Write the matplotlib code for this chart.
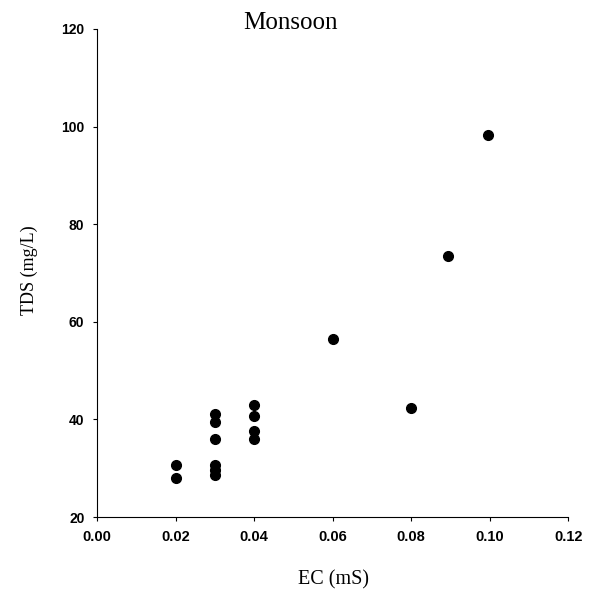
import matplotlib.pyplot as plt

# EC (mS) vs TDS (mg/L), monsoon season
ec = [0.02, 0.02, 0.03, 0.03, 0.03, 0.03, 0.03, 0.03,
      0.04, 0.04, 0.04, 0.04, 0.06, 0.08, 0.0895, 0.0995]
tds = [30.7, 28.0, 41.2, 39.5, 36.0, 30.7, 29.6, 28.7,
       43.0, 40.6, 37.6, 36.0, 56.4, 42.4, 73.5, 98.3]

xticks = [0.00, 0.02, 0.04, 0.06, 0.08, 0.10, 0.12]
yticks = [20, 40, 60, 80, 100, 120]

fig = plt.figure(figsize=(5.95, 6.04), dpi=100)
ax = fig.add_axes([0.163, 0.144, 0.792, 0.808])

ax.plot(ec, tds, 'o', color='black', markersize=7)

ax.set_xlim(0, 0.12)
ax.set_ylim(20, 120)
ax.set_xticks(xticks)
ax.set_xticklabels(['%.2f' % v for v in xticks], fontweight='bold', fontsize=10.5,
                   family='Liberation Sans')
ax.set_yticks(yticks)
ax.set_yticklabels([str(v) for v in yticks], fontweight='bold', fontsize=10,
                   family='Liberation Sans')
ax.tick_params(direction='out', length=3, width=0.8)
ax.tick_params(axis='y', pad=6)
ax.tick_params(axis='x', pad=6)

ax.spines['top'].set_visible(False)
ax.spines['right'].set_visible(False)
ax.spines['left'].set_linewidth(0.8)
ax.spines['bottom'].set_linewidth(0.8)

fig.text(0.488, 0.962, 'Monsoon', ha='center', va='center',
         fontsize=18, family='Liberation Serif')
fig.text(0.56, 0.04, 'EC (mS)', ha='center', va='center',
         fontsize=14.5, family='Liberation Serif')
fig.text(0.05, 0.552, 'TDS (mg/L)', ha='center', va='center', rotation=90,
         fontsize=13, family='Liberation Serif')

plt.savefig('out.png', dpi=100)
